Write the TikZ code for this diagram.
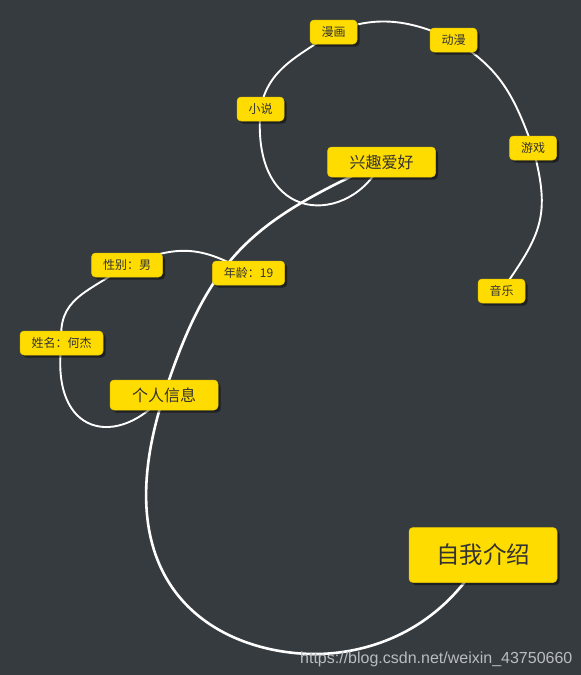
\documentclass[tikz,border=0pt]{standalone}
\usepackage{fontspec}
\setmainfont{Liberation Sans}
\newfontfamily\cjk{Noto Sans CJK SC}
\usepackage{xcolor}
\usepackage{tikz}
\usetikzlibrary{shadows, topaths}

\definecolor{canvasgray}{HTML}{363B3F}
\definecolor{topicyellow}{HTML}{FFDC00}
\definecolor{topicedge}{HTML}{E8C600}
\definecolor{topictext}{HTML}{333333}
\definecolor{markgray}{HTML}{B9BDC0}

\pgfdeclarelayer{backdrop}
\pgfdeclarelayer{background}
\pgfsetlayers{backdrop,background,main}

\begin{document}
\begin{tikzpicture}[
    x=1pt, y=1pt,
    % Styles
    topic/.style={rectangle, rounded corners=4pt, fill=topicyellow, draw=topicedge, line width=0.5pt, text=topictext, inner ysep=0pt,
        drop shadow={shadow xshift=2.5pt, shadow yshift=-2.5pt, fill=black, opacity=0.45}},
    roottopic/.style={topic, minimum height=55pt, inner xsep=27pt, font=\fontsize{23.5}{26}\cjk},
    maintopic/.style={topic, minimum height=30pt, inner xsep=22pt, font=\fontsize{16}{19}\cjk},
    subtopic/.style={topic, minimum height=24pt, inner xsep=11.5pt, font=\fontsize{12}{14}\cjk},
    trunk/.style={draw=white, line width=2.6pt},
    twig/.style={draw=white, line width=1.9pt}
]

    \useasboundingbox (0,0) rectangle (581,-675);
    \begin{pgfonlayer}{backdrop}
        \fill[canvasgray] (0,0) rectangle (581,-675);
    \end{pgfonlayer}

    % --- Central topic ---
    \node[roottopic] (root) at (483,-555) {自我介绍};

    % --- Main topics ---
    \node[maintopic] (info) at (164,-395) {个人信息};
    \node[maintopic] (hobby) at (381.5,-162) {兴趣爱好};

    % Personal info
    \node[subtopic] (name) at (61.5,-343) {姓名：何杰};
    \node[subtopic] (gender) at (127,-265) {性别：男};
    \node[subtopic] (age) at (248.5,-273) {年龄：19};

    % Hobbies
    \node[subtopic] (novel) at (260.5,-109) {小说};
    \node[subtopic] (comic) at (333.5,-32) {漫画};
    \node[subtopic] (anime) at (453.5,-40) {动漫};
    \node[subtopic] (game) at (533,-148) {游戏};
    \node[subtopic] (music) at (501.5,-291) {音乐};

    % turning point of the big loop
    \coordinate (rootbase) at (315,-654);

    % Watermark
    \node[font=\fontsize{16}{19}\selectfont, text=markgray, anchor=base west, inner sep=0pt] (watermark) at (300,-663) {https://blog.csdn.net/weixin\_43750660};

    % --- Connections (behind the topics) ---
    \begin{pgfonlayer}{background}
        \draw[trunk] (root.center) to[out=-120, in=0, out distance=95pt, in distance=45pt] (rootbase)
            to[out=180, in=-108, out distance=90pt, in distance=210pt] (info.center)
            to[out=72, in=-155, out distance=150pt, in distance=140pt] (hobby.center);

        \draw[twig] (info.center) to[out=-130, in=-97, out distance=70pt, in distance=95pt] (name.center);
        \draw[twig] (name.center) to[out=95, in=-145, out distance=45pt, in distance=50pt] (gender.center);
        \draw[twig] (gender.center) to[out=22, in=150, distance=55pt] (age.center);

        \draw[twig] (hobby.center) to[out=-115, in=-95, out distance=70pt, in distance=120pt] (novel.center);
        \draw[twig] (novel.center) to[out=80, in=-145] (comic.center);
        \draw[twig] (comic.center) to[out=22, in=155] (anime.center);
        \draw[twig] (anime.center) to[out=-31, in=110, distance=55pt] (game.center);
        \draw[twig] (game.center) to[out=-75, in=55, distance=70pt] (music.center);
    \end{pgfonlayer}

\end{tikzpicture}
\end{document}
